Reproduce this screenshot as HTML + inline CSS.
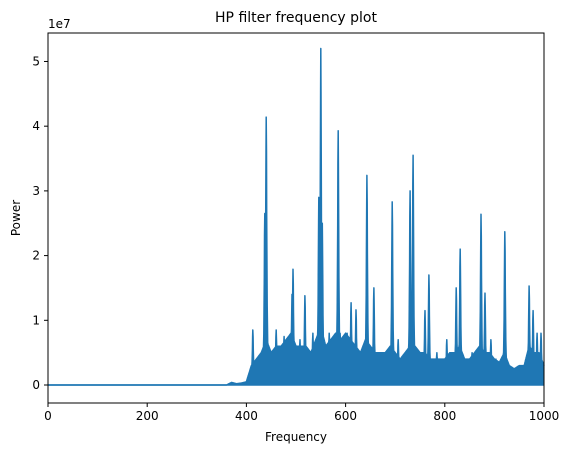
<!DOCTYPE html>
<html><head><meta charset="utf-8"><style>
body{margin:0;background:#fff;font-family:"Liberation Sans","DejaVu Sans",sans-serif;}
svg text{font-family:"DejaVu Sans","Liberation Sans",sans-serif;font-size:12px;fill:#000}
</style></head><body>
<svg id="chart" width="571" height="455" xmlns="http://www.w3.org/2000/svg">
<rect width="571" height="455" fill="#fff"/>
<g id="plot"></g>
</svg>
<script>
// base noise envelope (units 1e7), every 10 Hz from 360 to 1000
const baseFreqs=[360,370,380,390,400,410,420,430,440,450,460,470,480,490,500,510,520,530,540,550,560,570,580,590,600,610,620,630,640,650,660,670,680,690,700,710,720,730,740,750,760,770,780,790,800,810,820,830,840,850,860,870,880,890,900,910,920,930,940,950,960,970,980,990,1000];
const baseVals=[0.0,0.04,0.02,0.03,0.05,0.3,0.4,0.5,0.7,0.5,0.6,0.6,0.7,0.8,0.6,0.6,0.6,0.5,0.7,0.9,0.6,0.7,0.8,0.7,0.8,0.7,0.6,0.5,0.7,0.6,0.5,0.5,0.5,0.6,0.5,0.4,0.5,0.6,0.6,0.5,0.5,0.4,0.4,0.4,0.4,0.5,0.5,0.6,0.4,0.4,0.5,0.6,0.5,0.5,0.4,0.35,0.5,0.3,0.25,0.3,0.3,0.6,0.5,0.5,0.3];
// spectral peaks (frequency, power in 1e7)
const peakFreqs=[413,437,440,460,476,492,494,508,518,534,546,550,553,567,585,589,603,611,621,633,643,657,679,694,706,730,736,760,768,784,804,823,831,855,873,881,893,903,921,944,970,978,986,994];
const peakVals=[0.85,2.65,4.14,0.85,0.75,1.4,1.79,0.7,1.38,0.8,2.9,5.2,2.5,0.8,3.93,0.8,0.8,1.27,1.16,0.5,3.24,1.5,0.5,2.83,0.7,3.0,3.55,1.15,1.7,0.5,0.7,1.5,2.1,0.5,2.64,1.42,0.7,0.4,2.37,0.2,1.53,1.15,0.8,0.8];
const xTicks=[0,200,400,600,800,1000];
const yTicks=[0,1,2,3,4,5];
const X0=48,X1=544,Y0=33,Y1=403,ymin=-0.278,ymax=5.44;
const xs=f=>X0+(f-0)/1000*(X1-X0);
const ys=v=>Y1-(v-ymin)/(ymax-ymin)*(Y1-Y0);
const NS='http://www.w3.org/2000/svg';
const g=document.getElementById('plot');
function mk(t,a){const e=document.createElementNS(NS,t);for(const k in a)e.setAttribute(k,a[k]);g.appendChild(e);return e;}
function baseAt(f){if(f<=baseFreqs[0])return 0;for(let i=1;i<baseFreqs.length;i++){if(f<=baseFreqs[i]){const t=(f-baseFreqs[i-1])/(baseFreqs[i]-baseFreqs[i-1]);return baseVals[i-1]+t*(baseVals[i]-baseVals[i-1]);}}return baseVals[baseVals.length-1];}
function upper(f){let v=baseAt(f);for(let i=0;i<peakFreqs.length;i++){const d=Math.abs(f-peakFreqs[i]);if(d<15){const p=peakVals[i]/(1+Math.pow(d/1.3,2));v=Math.max(v,p);}}return v;}
const upperPts=[],lowerPts=[];
for(let f=0;f<=1000;f+=0.5){upperPts.push(xs(f).toFixed(1)+','+ys(upper(f)).toFixed(1));lowerPts.push(xs(f).toFixed(1)+','+ys(0).toFixed(1));}
const area=mk('polygon',{points:upperPts.concat(lowerPts.slice().reverse()).join(' '),fill:'#1f77b4'});


const line=mk('polyline',{points:upperPts.join(' '),fill:'none',stroke:'#1f77b4','stroke-width':1.5,'stroke-linejoin':'round'});


const baseLine=mk('polyline',{points:lowerPts.join(' '),fill:'none',stroke:'#1f77b4','stroke-width':1.5});


const fr=mk('rect',{x:X0,y:Y0,width:X1-X0,height:Y1-Y0,fill:'none',stroke:'#000','stroke-width':1});


xTicks.forEach(t=>{const x=xs(t);mk('line',{x1:x,x2:x,y1:Y1,y2:Y1+4,stroke:'#000'});const tx=mk('text',{x:x,y:Y1+17,'text-anchor':'middle'});tx.textContent=t;

});
yTicks.forEach(t=>{const y=ys(t);mk('line',{x1:X0-4,x2:X0,y1:y,y2:y,stroke:'#000'});const tx=mk('text',{x:X0-8,y:y+4,'text-anchor':'end'});tx.textContent=t;

});
const ex=mk('text',{x:48,y:28});ex.textContent='1e7';


const ti=mk('text',{x:(X0+X1)/2,y:22,'text-anchor':'middle',style:'font-size:14px'});ti.textContent='HP filter frequency plot';


const xl=mk('text',{x:(X0+X1)/2,y:441,'text-anchor':'middle'});xl.textContent='Frequency';


const yl=mk('text',{x:20,y:(Y0+Y1)/2,'text-anchor':'middle',transform:'rotate(-90 20 '+((Y0+Y1)/2)+')'});yl.textContent='Power';


</script>
</body></html>
